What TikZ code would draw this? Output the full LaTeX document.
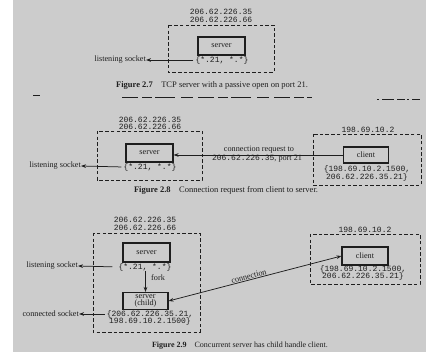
\documentclass[tikz,border=0pt]{standalone}
\usepackage{fontspec}
\setmainfont{Liberation Serif}
\newfontfamily\monof{Liberation Mono}
\usetikzlibrary{arrows.meta}
\definecolor{bg}{RGB}{204,204,204}
\definecolor{ink}{RGB}{30,30,30}
\newcommand\fmono{\monof\fontsize{8pt}{7.6pt}\selectfont}
\newcommand\flbl{\rmfamily\fontsize{8.2pt}{7.5pt}\selectfont}
\newcommand\fcap{\rmfamily\fontsize{8.5pt}{9pt}\selectfont}
\begin{document}
\begin{tikzpicture}[x=1pt,y=-1pt,
  ip/.style={font=\fmono, text=ink, inner sep=0pt, align=center},
  lbl/.style={font=\flbl, text=ink, inner sep=0pt},
  proc/.style={draw=ink, line width=1.1pt, inner sep=0pt, font=\flbl, text=ink, align=center},
  dbox/.style={draw=ink, line width=0.8pt, dash pattern=on 3.5pt off 2.2pt},
  arr/.style={draw=ink, line width=0.75pt, -{Stealth[length=5pt,width=3.6pt]}},
  darr/.style={draw=ink, line width=0.75pt, {Stealth[length=5pt,width=3.6pt]}-{Stealth[length=5pt,width=3.6pt]}},
  figcap/.style={font=\fcap, text=ink, inner sep=0pt},
  tear/.style={draw=ink, line width=0.8pt},
]
\useasboundingbox (0,0) rectangle (426,352);
\fill[white] (0,0) rectangle (426,352);
\fill[bg] (13,0) rectangle (426,352);

% ---------- Figure 2.7 ----------
\node[ip] (ip1) at (221,16) {206.62.226.35\\206.62.226.66};
\draw[dbox] (168,25) rectangle (274,72);
\node[proc, minimum width=47pt, minimum height=18pt] (srv1) at (221.5,46) {server};
\node[ip] (sock1) at (222,60) {\{*.21, *.*\}};
\node[lbl, anchor=east] (lis1) at (146,60) {listening socket};
\draw[arr, shorten <=2pt] (sock1.west) -- (lis1.east);
\node[figcap] (cap1) at (212,85) {\textbf{Figure 2.7}\quad TCP server with a passive open on port 21.};

% tear line
\draw[tear, dash pattern=on 16pt off 4pt on 10pt off 3pt on 20pt off 6pt on 12pt off 5pt] (122,97) -- (312,97);
\draw[tear] (33,95) -- (40,95);
\draw[tear, line width=0.6pt, dash pattern=on 2pt off 3pt on 12pt off 3pt on 8pt off 2pt] (377,99) -- (420,99);

% ---------- Figure 2.8 ----------
\node[ip] (ip2) at (150,123.5) {206.62.226.35\\206.62.226.66};
\draw[dbox] (97,131) rectangle (202,180);
\node[proc, minimum width=47pt, minimum height=18pt] (srv2) at (149.5,153) {server};
\node[ip] (sock2) at (150,167) {\{*.21, *.*\}};
\node[lbl, anchor=east] (lis2) at (81,166) {listening socket};
\draw[arr, shorten <=2pt] (sock2.west) -- (lis2.east);

\node[ip] (cip2) at (368,130) {198.69.10.2};
\draw[dbox] (313,134) rectangle (421,185);
\node[proc, minimum width=45pt, minimum height=16pt] (cli2) at (366,155) {client};
\node[ip] (caddr2) at (367,173.5) {\{198.69.10.2.1500,\\206.62.226.35.21\}};
\draw[arr] (cli2.west) -- (srv2.east |- cli2.west);
\node[lbl] (req2a) at (259,150) {connection request to};
\node[lbl] (req2b) at (257,158.5) {{\fmono 206.62.226.35}, port 21};
\node[figcap] (cap2) at (226,190) {\textbf{Figure 2.8}\quad Connection request from client to server.};

% ---------- Figure 2.9 ----------
\node[ip] (ip3) at (145,224) {206.62.226.35\\206.62.226.66};
\draw[dbox] (93,233) rectangle (200,332);
\node[proc, minimum width=47pt, minimum height=19pt] (srv3) at (146.5,252.5) {server};
\node[ip] (sock3) at (145,267) {\{*.21, *.*\}};
\node[lbl, anchor=east] (lis3) at (78,266) {listening socket};
\draw[arr, shorten <=6pt] (sock3.west) -- (lis3.east);
\node[proc, minimum width=45pt, minimum height=17pt] (child3) at (145.5,301) {server\\[-0.5pt](child)};
\draw[arr] (sock3.south -| child3.north) -- (child3.north);
\node[lbl, anchor=west] (fork3) at (151,278) {fork};
\node[ip] (caddr3) at (150,318) {\{206.62.226.35.21,\\198.69.10.2.1500\}};
\node[lbl, anchor=east] (con3) at (79,314) {connected socket};
\draw[arr, shorten <=2pt] (caddr3.west |- con3.east) -- (con3.east);

\node[ip] (cip3) at (365,230) {198.69.10.2};
\draw[dbox] (310,234) rectangle (420,284);
\node[proc, minimum width=46pt, minimum height=18pt] (cli3) at (365,256) {client};
\node[ip] (caddr3c) at (363,273) {\{198.69.10.2.1500,\\206.62.226.35.21\}};
\draw[darr] (child3.east) -- node[lbl, sloped, above=0.6pt, pos=0.47] (conn3) {connection} (cli3.west);
\node[figcap, font=\rmfamily\fontsize{8pt}{9pt}\selectfont] (cap3) at (240,346) {\textbf{Figure 2.9}\quad Concurrent server has child handle client.};
\end{tikzpicture}
\end{document}
